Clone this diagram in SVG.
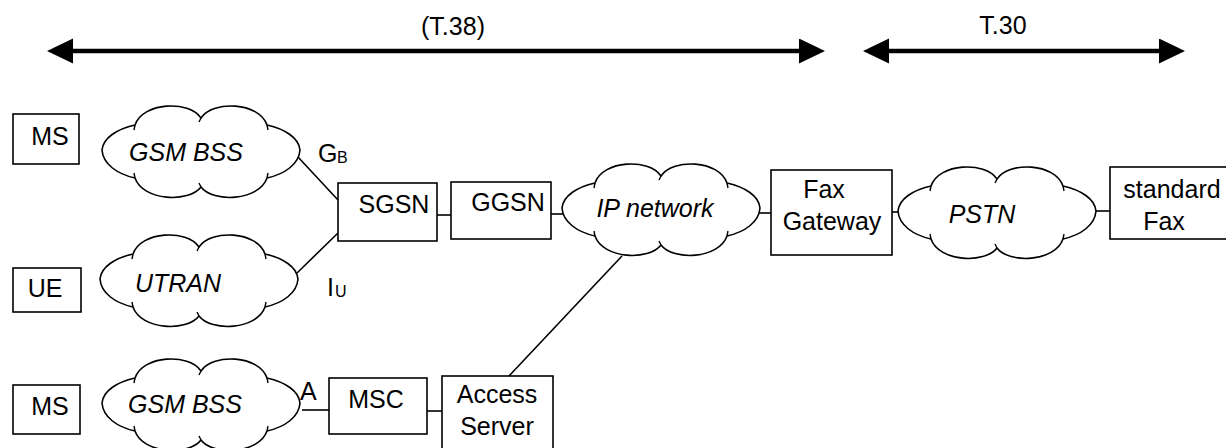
<svg xmlns="http://www.w3.org/2000/svg" width="1226" height="448" viewBox="0 0 1226 448">
<style>
text{font-family:"Liberation Sans",Arial,sans-serif;font-size:25px;fill:#000}
.c{text-anchor:middle}
.i{font-style:italic}
.sub{font-size:16px}
.box{fill:#fff;stroke:#000;stroke-width:1.6}
.cloud{fill:#fff;stroke:#000;stroke-width:1.6;stroke-linejoin:round}
.tick{fill:none;stroke:#000;stroke-width:1.4}
.ln{stroke:#000;stroke-width:1.6;fill:none}
.arr{stroke:#000;stroke-width:4.5;fill:none;marker-start:url(#ah);marker-end:url(#ah)}
</style>
<defs>
<marker id="ah" viewBox="0 0 26 26" refX="0" refY="12.5" markerWidth="26" markerHeight="26" markerUnits="userSpaceOnUse" orient="auto-start-reverse">
<path d="M0,0 L26,12.5 L0,25 Z" fill="#000"/>
</marker>
<g id="cloudshape">
<path class="cloud" d="M-99,-2 C-98,-14 -84,-23 -66,-27 C-58,-50 -12,-52 0,-34 C12,-52 58,-50 66,-27 C84,-23 98,-14 99,-2 C98,12 84,22 66,26 C58,49 12,51 0,35 C-12,51 -58,49 -66,26 C-84,22 -98,12 -99,-2 Z"/>
<path class="tick" d="M-66,-27 l-1,5 M0,-34 l-2,4 M66,-27 l1,5 M66,26 l1,-5 M0,35 l-2,-4 M-66,26 l-1,-5"/>
</g>
</defs>

<g id="connectors">
<line class="arr" x1="73" y1="51" x2="799" y2="51"/>
<line class="arr" x1="889" y1="51" x2="1159" y2="51"/>
<line class="ln" x1="298" y1="157" x2="338" y2="200"/>
<line class="ln" x1="297" y1="273" x2="338" y2="233"/>
<line class="ln" x1="437" y1="215" x2="451" y2="215"/>
<line class="ln" x1="551" y1="214" x2="563" y2="214"/>
<line class="ln" x1="758" y1="213" x2="771" y2="213"/>
<line class="ln" x1="892" y1="212" x2="898" y2="212"/>
<line class="ln" x1="1096" y1="211" x2="1110" y2="211"/>
<line class="ln" x1="622" y1="256" x2="509" y2="376"/>
<line class="ln" x1="302" y1="410" x2="329" y2="410"/>
<line class="ln" x1="427" y1="411" x2="442" y2="411"/>
</g>

<g id="label-t38"><text class="c" x="453" y="35">(T.38)</text></g>
<g id="label-t30"><text class="c" x="1003" y="34">T.30</text></g>

<g id="ms1"><rect class="box" x="13" y="114" width="66" height="50"/><text class="c" x="50" y="145">MS</text></g>
<g id="ue"><rect class="box" x="13" y="268" width="68" height="44"/><text class="c" x="45" y="297">UE</text></g>
<g id="ms2"><rect class="box" x="13" y="385" width="67" height="49"/><text class="c" x="50" y="415">MS</text></g>

<g id="gsmbss1"><use href="#cloudshape" transform="translate(201,152)"/><text class="c i" x="186" y="161">GSM BSS</text></g>
<g id="utran"><use href="#cloudshape" transform="translate(199,281)"/><text class="c i" x="178" y="292">UTRAN</text></g>
<g id="gsmbss2"><use href="#cloudshape" transform="translate(201,405)"/><text class="c i" x="185" y="413">GSM BSS</text></g>

<g id="label-gb"><text x="318" y="162">G</text><text class="sub" x="337" y="163">B</text></g>
<g id="label-iu"><text x="327" y="296">I</text><text class="sub" x="335" y="297">U</text></g>
<g id="label-a"><text x="300" y="400">A</text></g>

<g id="sgsn"><rect class="box" x="338" y="183" width="99" height="58"/><text class="c" x="394" y="213">SGSN</text></g>
<g id="ggsn"><rect class="box" x="451" y="182" width="100" height="57"/><text class="c" x="508" y="211">GGSN</text></g>
<g id="ipnet"><use href="#cloudshape" transform="translate(661,210)"/><text class="c i" x="655" y="217">IP network</text></g>
<g id="faxgw"><rect class="box" x="771" y="170" width="121" height="85"/><text class="c" x="824" y="198">Fax</text><text class="c" x="832" y="230">Gateway</text></g>
<g id="pstn"><use href="#cloudshape" transform="translate(997,213)"/><text class="c i" x="982" y="223">PSTN</text></g>
<g id="stdfax"><rect class="box" x="1110" y="167" width="130" height="72"/><text class="c" x="1172" y="198">standard</text><text class="c" x="1164" y="230">Fax</text></g>
<g id="msc"><rect class="box" x="329" y="378" width="98" height="56"/><text class="c" x="376" y="408">MSC</text></g>
<g id="access"><rect class="box" x="442" y="376" width="111" height="80"/><text class="c" x="497" y="403">Access</text><text class="c" x="497" y="435">Server</text></g>
</svg>
